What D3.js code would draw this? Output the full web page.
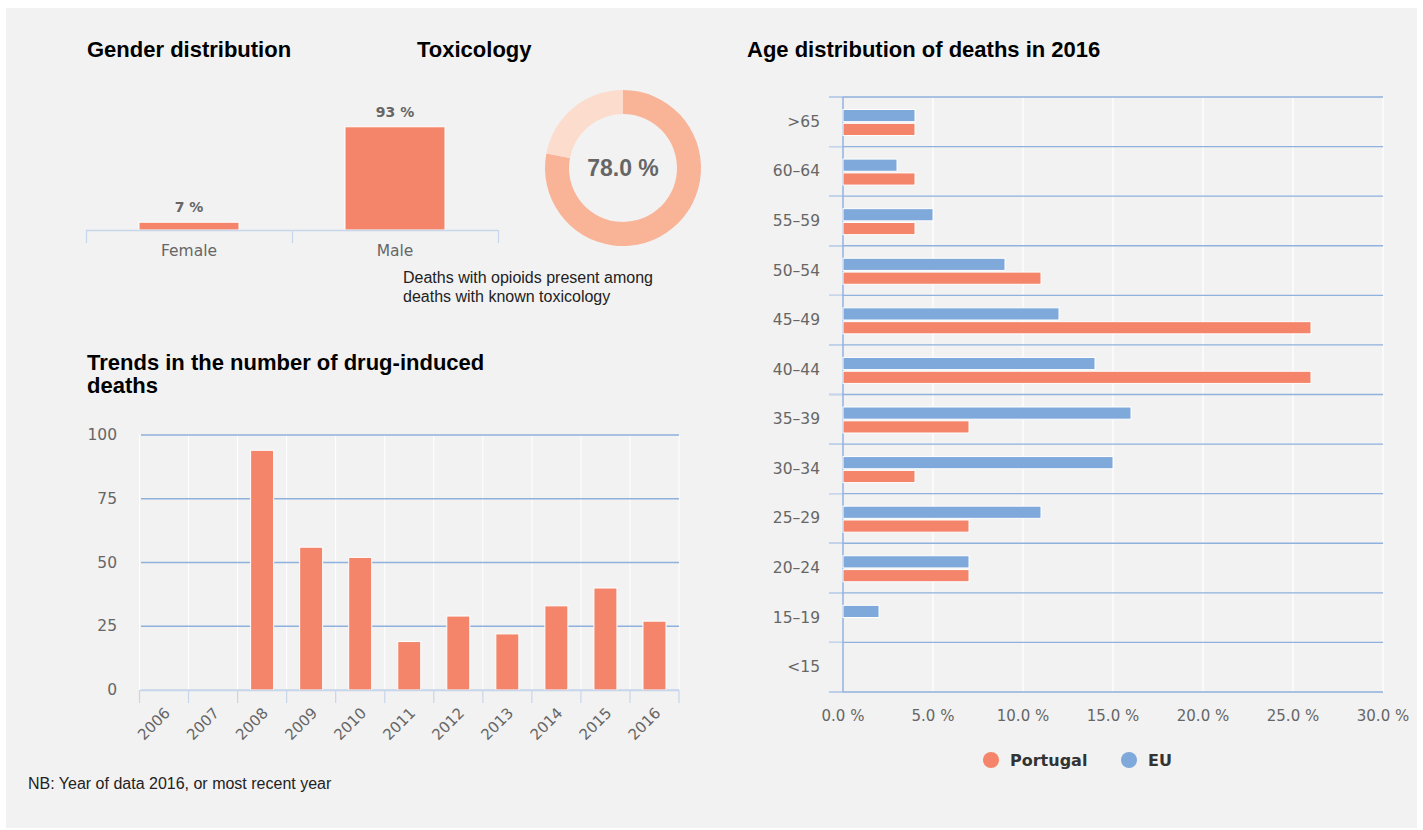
<!DOCTYPE html>
<html><head><meta charset="utf-8">
<script src="https://cdn.jsdelivr.net/npm/d3@7"></script>
<style>
html,body{margin:0;padding:0;background:#fff;}
svg{display:block;}
text{font-family:"DejaVu Sans",sans-serif;}
.title{font-family:"Liberation Sans",Arial,sans-serif;font-weight:bold;font-size:22px;fill:#000;}
.cap{font-family:"Liberation Sans",Arial,sans-serif;font-size:16px;fill:#222;}
.big{font-family:"Liberation Sans",Arial,sans-serif;font-weight:bold;font-size:23px;fill:#666;}
</style></head><body>
<script>
// ---- data ----
const genderCats = ["Female","Male"];
const genderVals = [7,93];
const toxValue = 78.0;
const years = ["2006","2007","2008","2009","2010","2011","2012","2013","2014","2015","2016"];
const deaths = [null,null,94,56,52,19,29,22,33,40,27];
const trendTicks = [0,25,50,75,100];
const ageCats = [">65","60–64","55–59","50–54","45–49","40–44","35–39","30–34","25–29","20–24","15–19","<15"];
const portugal = [4,4,4,11,26,26,7,4,7,7,0,0];
const eu = [4,3,5,9,12,14,16,15,11,7,2,0];
const ageTicks = [0,5,10,15,20,25,30];
const seriesNames = ["Portugal","EU"];

const ORANGE="#f4856a", BLUE="#7fa8db", GRID="#8fb1de", AXIS="#c8d6eb", LBL="#666";

const W=1423,H=830;
const svg=d3.select("body").append("svg").attr("width",W).attr("height",H);
svg.append("rect").attr("x",6).attr("y",8).attr("width",1411).attr("height",820).attr("fill","#f2f2f2");

// titles
svg.append("text").attr("class","title").attr("x",87).attr("y",57).text("Gender distribution");
svg.append("text").attr("class","title").attr("x",417).attr("y",57).text("Toxicology");
svg.append("text").attr("class","title").attr("x",747).attr("y",57).text("Age distribution of deaths in 2016");
const tt=svg.append("text").attr("class","title").attr("x",87).attr("y",370);
tt.append("tspan").attr("x",87).text("Trends in the number of drug-induced");
tt.append("tspan").attr("x",87).attr("dy",23).text("deaths");
svg.append("text").attr("class","cap").attr("x",28).attr("y",789).text("NB: Year of data 2016, or most recent year");

// ---- gender ----
{
  const x=d3.scaleBand().domain(genderCats).range([86,498]);
  const y=d3.scaleLinear().domain([0,100]).range([230,119]);
  const g=svg.append("g");
  g.selectAll("rect.b").data(genderCats).join("rect")
    .attr("x",d=>x(d)+x.bandwidth()/2-50).attr("width",100)
    .attr("y",(d,i)=>y(genderVals[i])).attr("height",(d,i)=>y(0)-y(genderVals[i]))
    .attr("fill",ORANGE).attr("stroke","#fff").attr("stroke-width",1);
  g.selectAll("text.v").data(genderCats).join("text")
    .attr("x",d=>x(d)+x.bandwidth()/2).attr("y",(d,i)=>y(genderVals[i])-10)
    .attr("text-anchor","middle").attr("font-size",14).attr("font-weight","bold").attr("fill",LBL)
    .text((d,i)=>genderVals[i]+" %");
  g.append("line").attr("x1",86).attr("x2",498).attr("y1",230.5).attr("y2",230.5).attr("stroke",AXIS).attr("stroke-width",1.5);
  g.selectAll("line.t").data(x.domain().map(d=>x(d)).concat([498])).join("line")
    .attr("x1",d=>d+0.5).attr("x2",d=>d+0.5).attr("y1",230).attr("y2",243).attr("stroke",AXIS).attr("stroke-width",1.2);
  g.selectAll("text.c").data(genderCats).join("text")
    .attr("x",d=>x(d)+x.bandwidth()/2).attr("y",256).attr("text-anchor","middle")
    .attr("font-size",15.5).attr("fill",LBL).text(d=>d);
}

// ---- toxicology donut ----
{
  const g=svg.append("g").attr("transform","translate(623,168)");
  const pie=d3.pie().sort(null)([toxValue,100-toxValue]);
  const arc=d3.arc().innerRadius(54).outerRadius(78);
  g.selectAll("path").data(pie).join("path").attr("d",arc)
    .attr("fill",(d,i)=>i===0?"#f9b397":"#fcdccc");
  g.append("text").attr("class","big").attr("text-anchor","middle").attr("y",8).text(toxValue.toFixed(1)+" %");
  svg.append("text").attr("class","cap").attr("x",403).attr("y",283).text("Deaths with opioids present among");
  svg.append("text").attr("class","cap").attr("x",403).attr("y",302).text("deaths with known toxicology");
}

// ---- trends ----
{
  const x=d3.scaleBand().domain(years).range([139.5,679]);
  const y=d3.scaleLinear().domain([0,100]).range([690,435]);
  const g=svg.append("g");
  const bounds=years.map(d=>x(d)).concat([679]);
  g.selectAll("line.v").data(bounds).join("line")
    .attr("x1",d=>d).attr("x2",d=>d).attr("y1",435).attr("y2",690).attr("stroke","#fff").attr("stroke-width",1);
  g.selectAll("line.h").data(trendTicks).join("line")
    .attr("x1",141).attr("x2",679).attr("y1",d=>y(d)).attr("y2",d=>y(d))
    .attr("stroke",d=>d===0?AXIS:GRID).attr("stroke-width",1.3);
  g.selectAll("text.y").data(trendTicks).join("text")
    .attr("x",117).attr("y",d=>y(d)+5).attr("text-anchor","end").attr("font-size",15.5).attr("fill",LBL).text(d=>d);
  const bw=23;
  g.selectAll("rect").data(years.filter((d,i)=>deaths[i]!=null)).join("rect")
    .attr("x",d=>x(d)+x.bandwidth()/2-bw/2).attr("width",bw)
    .attr("y",d=>y(deaths[years.indexOf(d)])).attr("height",d=>y(0)-y(deaths[years.indexOf(d)]))
    .attr("fill",ORANGE).attr("stroke","#fff").attr("stroke-width",1);
  g.append("line").attr("x1",139.5).attr("x2",679).attr("y1",690.5).attr("y2",690.5).attr("stroke",AXIS).attr("stroke-width",1.5);
  g.selectAll("line.t").data(bounds).join("line")
    .attr("x1",d=>d).attr("x2",d=>d).attr("y1",690).attr("y2",703).attr("stroke",AXIS).attr("stroke-width",1.2);
  g.selectAll("text.x").data(years).join("text")
    .attr("transform",d=>`translate(${x(d)+x.bandwidth()/2+7},${714}) rotate(-45)`)
    .attr("text-anchor","end").attr("font-size",15).attr("fill",LBL).text(d=>d);
}

// ---- age ----
{
  const y=d3.scaleBand().domain(ageCats).range([97,692]);
  const x=d3.scaleLinear().domain([0,30]).range([843,1383]);
  const inner=d3.scaleBand().domain(["EU","Portugal"]).range([12.5,38.5]).paddingInner(0.12);
  const g=svg.append("g");
  g.selectAll("line.v").data(ageTicks).join("line")
    .attr("x1",d=>x(d)).attr("x2",d=>x(d)).attr("y1",97).attr("y2",692).attr("stroke","#fff").attr("stroke-width",1.2);
  const bounds=ageCats.map(d=>y(d)).concat([692]);
  g.selectAll("line.h").data(bounds).join("line")
    .attr("x1",829).attr("x2",1383).attr("y1",d=>d).attr("y2",d=>d)
    .attr("stroke",GRID).attr("stroke-width",1.3);
  g.selectAll("line.tk").data(bounds).join("line")
    .attr("x1",829).attr("x2",843).attr("y1",d=>d).attr("y2",d=>d)
    .attr("stroke",AXIS).attr("stroke-width",1.3);
  g.append("line").attr("x1",843).attr("x2",843).attr("y1",97).attr("y2",692).attr("stroke",GRID).attr("stroke-width",1.5);
  const rows=ageCats.map((c,i)=>({c,pt:portugal[i],eu:eu[i]}));
  const bars=[];
  rows.forEach(r=>{ if(r.eu>0) bars.push({c:r.c,s:"EU",v:r.eu}); if(r.pt>0) bars.push({c:r.c,s:"Portugal",v:r.pt}); });
  g.selectAll("rect").data(bars).join("rect")
    .attr("x",x(0)).attr("width",d=>x(d.v)-x(0))
    .attr("y",d=>y(d.c)+inner(d.s)).attr("height",inner.bandwidth())
    .attr("fill",d=>d.s==="EU"?BLUE:ORANGE).attr("stroke","#fff").attr("stroke-width",1);
  g.selectAll("text.y").data(ageCats).join("text")
    .attr("x",820).attr("y",d=>y(d)+y.bandwidth()/2+5).attr("text-anchor","end")
    .attr("font-size",15.5).attr("fill",LBL).text(d=>d);
  g.selectAll("text.x").data(ageTicks).join("text")
    .attr("x",d=>x(d)).attr("y",721).attr("text-anchor","middle")
    .attr("font-size",15).attr("fill",LBL).text(d=>d.toFixed(1)+" %");
  const lg=[{n:seriesNames[0],c:ORANGE,x:991},{n:seriesNames[1],c:BLUE,x:1129}];
  lg.forEach(l=>{
    svg.append("circle").attr("cx",l.x).attr("cy",760).attr("r",8).attr("fill",l.c);
    svg.append("text").attr("x",l.x+19).attr("y",766).attr("font-size",16).attr("font-weight","bold").attr("fill","#333").text(l.n);
  });
}
</script>
</body></html>
